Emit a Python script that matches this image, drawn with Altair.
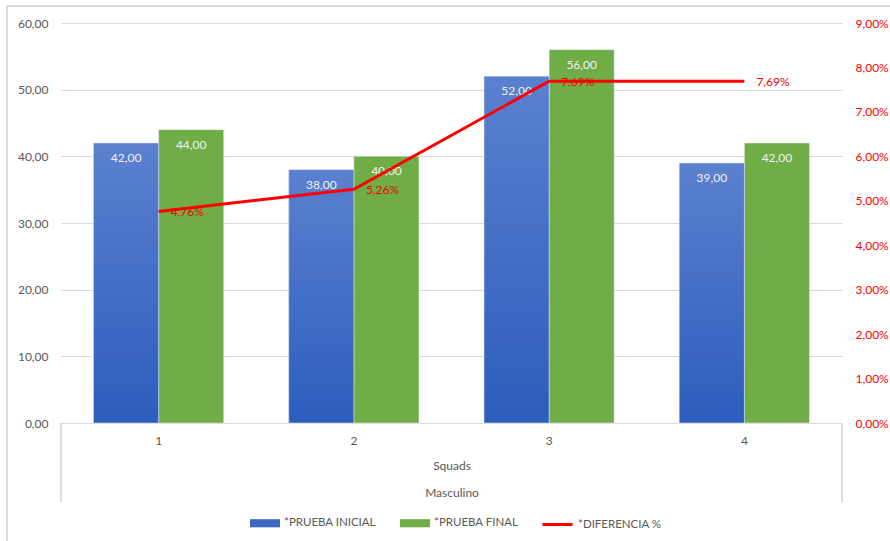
import altair as alt
import pandas as pd

categories = ["1", "2", "3", "4"]
inicial = [42, 38, 52, 39]
final = [44, 40, 56, 42]
diferencia = [0.0476, 0.0526, 0.0769, 0.0769]
series_names = ["*PRUEBA INICIAL", "*PRUEBA FINAL"]
line_name = "*DIFERENCIA %"
left_ticks = [0, 10, 20, 30, 40, 50, 60]
right_ticks = [0, 0.01, 0.02, 0.03, 0.04, 0.05, 0.06, 0.07, 0.08, 0.09]

W, H = 781, 400
FONT = "Lato"
GRAY = "#595959"

rows = []
for c, a, b in zip(categories, inicial, final):
    rows.append({"cat": c, "serie": series_names[0], "valor": a})
    rows.append({"cat": c, "serie": series_names[1], "valor": b})
bars_df = pd.DataFrame(rows)
line_df = pd.DataFrame({"cat": categories, "dif": diferencia, "serie": [line_name] * 4})

x_enc = alt.X("cat:N", sort=categories,
              scale=alt.Scale(paddingInner=1 / 3, paddingOuter=1 / 6),
              axis=alt.Axis(title=["Squads", "Masculino"], titleLineHeight=27,
                            titleFont=FONT, titleFontSize=12, titleFontWeight="normal",
                            titleColor=GRAY, titlePadding=14,
                            labelAngle=0, labelColor=GRAY, labelFont=FONT, labelFontSize=12,
                            labelPadding=12, ticks=False, domainColor="#D9D9D9", grid=False))
xoff = alt.XOffset("serie:N", sort=series_names,
                   scale=alt.Scale(domain=series_names, paddingInner=0, paddingOuter=0))
y_left = alt.Y("valor:Q", scale=alt.Scale(domain=[0, 60]),
               axis=alt.Axis(values=left_ticks, title=None, domain=False, ticks=False,
                             labelExpr="replace(format(datum.value, '.2f'), '.', ',')",
                             labelColor=GRAY, labelFont=FONT, labelFontSize=12, labelPadding=13,
                             gridColor="#D9D9D9"))

bars = alt.Chart(bars_df).mark_bar(stroke="#E8EEF8", strokeWidth=0.5).encode(
    x=x_enc, xOffset=xoff, y=y_left,
    fill=alt.Fill("serie:N", sort=series_names,
                  scale=alt.Scale(domain=series_names, range=["#3D69C3", "#70AD47"]),
                  legend=alt.Legend(title=None, orient="none", legendX=189, legendY=485,
                                    direction="horizontal", columnPadding=24,
                                    symbolType="M-1,-0.27H1V0.27H-1Z", symbolSize=900,
                                    symbolStrokeWidth=0, labelFont=FONT, labelFontSize=11.5,
                                    labelColor=GRAY, labelOffset=4))
)

blue_grad = alt.Gradient(gradient="linear",
                         stops=[alt.GradientStop(color="#5B80CF", offset=0),
                                alt.GradientStop(color="#2C5DBD", offset=1)],
                         x1=0, x2=0, y1=0, y2=1)
overlay = alt.Chart(bars_df).transform_filter(
    alt.datum.serie == series_names[0]
).mark_bar(fill=blue_grad, stroke="#E8EEF8", strokeWidth=0.5).encode(
    x=alt.X("cat:N", sort=categories), xOffset=xoff, y=alt.Y("valor:Q")
)

bar_text = alt.Chart(bars_df).transform_calculate(
    lbl="replace(format(datum.valor, '.2f'), '.', ',')"
).mark_text(baseline="middle", dy=15, color="#F2F2F2", font=FONT, fontSize=12).encode(
    x=alt.X("cat:N", sort=categories), xOffset=xoff, y=alt.Y("valor:Q"), text="lbl:N"
)

frame_left = alt.Chart(line_df).mark_rule(color="#D9D9D9").encode(
    x=alt.value(0), y=alt.value(H), y2=alt.value(H + 79))
frame_right = alt.Chart(line_df).mark_rule(color="#D9D9D9").encode(
    x=alt.value(W), y=alt.value(H), y2=alt.value(H + 79))
outer_left = alt.Chart(line_df).mark_rule(color="#D9D9D9").encode(
    x=alt.value(-54), y=alt.value(-17), y2=alt.value(H + 118))
outer_top = alt.Chart(line_df).mark_rule(color="#D9D9D9").encode(
    x=alt.value(-54), x2=alt.value(W + 48), y=alt.value(-17))

left = alt.layer(outer_left, outer_top, bars, overlay, bar_text, frame_left, frame_right)

y_right = alt.Y("dif:Q", scale=alt.Scale(domain=[0, 0.09]),
                axis=alt.Axis(orient="right", values=right_ticks, title=None, domain=False,
                              ticks=False, grid=False,
                              labelExpr="replace(format(datum.value, '.2%'), '.', ',')",
                              labelColor="#FF0000", labelFont=FONT, labelFontSize=12,
                              labelPadding=13))

line = alt.Chart(line_df).mark_line(strokeWidth=3).encode(
    x=alt.X("cat:N", sort=categories), y=y_right,
    stroke=alt.Stroke("serie:N", scale=alt.Scale(domain=[line_name], range=["#FF0000"]),
                      legend=alt.Legend(title=None, orient="none", legendX=480, legendY=485,
                                        symbolType="stroke", symbolSize=900,
                                        symbolStrokeWidth=3, labelFont=FONT,
                                        labelFontSize=11.5, labelColor=GRAY, labelOffset=4))
)
line_text = alt.Chart(line_df).transform_calculate(
    lbl="replace(format(datum.dif, '.2%'), '.', ',')"
).mark_text(align="left", baseline="middle", dx=12, dy=1, color="#F00000",
            font=FONT, fontSize=12).encode(
    x=alt.X("cat:N", sort=categories), y=alt.Y("dif:Q"), text="lbl:N"
)

right = alt.layer(line, line_text)

chart = alt.layer(left, right).resolve_scale(y="independent").properties(
    width=W, height=H,
    autosize=alt.AutoSizeParams(type="none"),
    padding={"left": 61, "top": 23, "right": 48, "bottom": 118},
    background="white",
).configure_view(stroke=None)

chart.save("out.html", embed_options={"renderer": "svg", "actions": False})
